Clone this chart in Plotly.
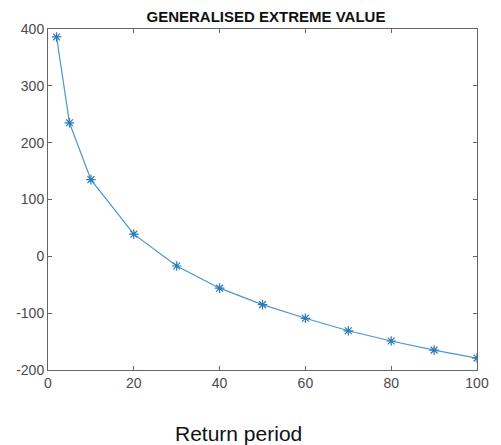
import plotly.graph_objects as go

return_period = [2, 5, 10, 20, 30, 40, 50, 60, 70, 80, 90, 100]
values = [386, 235, 135, 39, -17, -56, -85, -109, -131, -149, -165, -179]
x_ticks = [0, 20, 40, 60, 80, 100]
y_ticks = [-200, -100, 0, 100, 200, 300, 400]
y_tick_labels = ["-200", "-100", "0", "100", "200", "300", "400"]

fig = go.Figure()
fig.add_trace(go.Scatter(
    x=return_period, y=values, mode="lines+markers",
    line=dict(color="#4a97d0", width=1.2),
    marker=dict(symbol="asterisk-open", size=8, color="#2a7ab8",
                line=dict(color="#2a7ab8", width=1.2)),
    showlegend=False,
))

axis_common = dict(
    showline=True, linecolor="#666666", linewidth=1, mirror="ticks",
    ticks="inside", ticklen=4, tickcolor="#666666", showgrid=False,
    zeroline=False, tickfont=dict(family="Liberation Sans, Arial", size=14, color="#4a4a4a"),
)
fig.update_xaxes(range=[0, 100], tickvals=x_ticks, **axis_common)
fig.update_yaxes(range=[-200, 400], tickvals=y_ticks, ticktext=y_tick_labels, **axis_common)

fig.add_annotation(
    text="Return period", xref="paper", yref="paper",
    x=(240 - 48) / 433, y=-(433 - 370) / 341, xanchor="center", yanchor="middle",
    showarrow=False, font=dict(family="Liberation Sans, Arial", size=21, color="#111111"),
)

fig.update_layout(
    width=501, height=445,
    margin=dict(l=48, r=20, t=29, b=75),
    paper_bgcolor="white", plot_bgcolor="white",
    title=dict(text="<b>GENERALISED EXTREME VALUE</b>", x=266/501, xanchor="center",
               y=1 - 17/445, yanchor="middle",
               font=dict(family="Liberation Sans, Arial", size=15, color="#111111")),
)

fig.write_html("out.html")
